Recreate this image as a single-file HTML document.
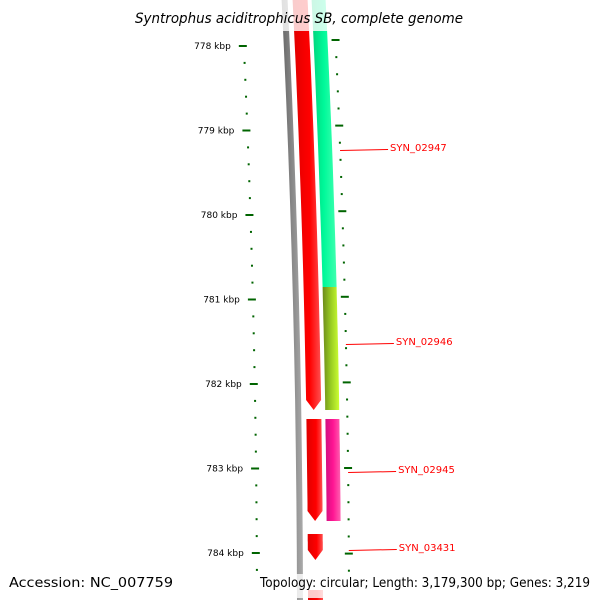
<!DOCTYPE html>
<html><head><meta charset="utf-8"><style>
body{margin:0;background:#fff;width:600px;height:600px;overflow:hidden}
svg{display:block}
</style></head><body>
<svg id="c" width="600" height="600" xmlns="http://www.w3.org/2000/svg">
<defs>
<linearGradient id="gRed" x1="0" x2="1"><stop offset="0" stop-color="#e00000"/><stop offset="0.6" stop-color="#ff0000"/><stop offset="1" stop-color="#ff5050"/></linearGradient>
<linearGradient id="gGreen" x1="0" x2="1"><stop offset="0" stop-color="#00d27a"/><stop offset="0.5" stop-color="#00f99a"/><stop offset="1" stop-color="#40ffb0"/></linearGradient>
<linearGradient id="gLime" x1="0" x2="1"><stop offset="0" stop-color="#6b8a1a"/><stop offset="0.5" stop-color="#99cc22"/><stop offset="1" stop-color="#ccff33"/></linearGradient>
<linearGradient id="gPink" x1="0" x2="1"><stop offset="0" stop-color="#d01080"/><stop offset="0.5" stop-color="#ff1493"/><stop offset="1" stop-color="#ff60b0"/></linearGradient>
<linearGradient id="gGray" x1="0" x2="1"><stop offset="0" stop-color="#666"/><stop offset="1" stop-color="#aaa"/></linearGradient>
</defs>
<g id="tracks"></g>
<g id="ticks"></g>
<g id="labels"></g>
<rect x="0" y="0" width="600" height="31" fill="#fff" opacity="0.8"/>
<text x="135" y="23" textLength="328" lengthAdjust="spacingAndGlyphs" font-family="DejaVu Sans, sans-serif" font-style="italic" font-size="14" fill="#000">Syntrophus aciditrophicus SB, complete genome</text>
<rect x="0" y="574" width="600" height="24" fill="#fff" opacity="0.8"/>
<text x="9" y="587" textLength="164" lengthAdjust="spacingAndGlyphs" font-family="DejaVu Sans, sans-serif" font-size="13" fill="#000">Accession: NC_007759</text>
<text x="260" y="587" textLength="330" lengthAdjust="spacingAndGlyphs" font-family="DejaVu Sans, sans-serif" font-size="13" fill="#000">Topology: circular; Length: 3,179,300 bp; Genes: 3,219</text>
</svg>
<script>
const majorTicks=[778,779,780,781,782,783,784];
const reverseGenes=[[777400,782308],[782414,783621],[783775,784083],[784438,784900]];
const forwardGenes=[[777400,780852],[780852,782308],[782414,783621]];
const forwardFills=["url(#gGreen)","url(#gLime)","url(#gPink)"];
const geneLabels=["SYN_02947","SYN_02946","SYN_02945","SYN_03431"];
const labelBp=[779195,781491,783006,783929];

const NS="http://www.w3.org/2000/svg";
function yOf(bp){return 46+(bp-778000)*0.0845;}
function off(y){return -Math.pow(y-620,2)/25000;}
function mk(tag,attrs,parent){const e=document.createElementNS(NS,tag);for(const k in attrs)e.setAttribute(k,attrs[k]);parent.appendChild(e);return e;}
const T=document.getElementById('tracks'),K=document.getElementById('ticks'),L=document.getElementById('labels');
function band(y1,y2,X1,X2,arrow){
  const a=Math.max(y1,-2),b=Math.min(y2,600);const head=(arrow&&y2<=600)?Math.min(10,b-a):0;
  const pts=[];const n=12;
  for(let i=0;i<=n;i++){const y=a+(b-head-a)*i/n;pts.push([X1+off(y),y]);}
  if(head){const y=b;pts.push([(X1+X2)/2+off(y),y]);}
  for(let i=n;i>=0;i--){const y=a+(b-head-a)*i/n;pts.push([X2+off(y),y]);}
  return pts.map(p=>p[0].toFixed(1)+','+p[1].toFixed(1)).join(' ');
}
let e=mk('polygon',{points:band(-2,600,297,303,false),fill:'url(#gGray)'},T);


reverseGenes.forEach((g,i)=>{
  const el=mk('polygon',{points:band(yOf(g[0]),yOf(g[1]),308,323,true),fill:'url(#gRed)'},T);
  
  
});
forwardGenes.forEach((g,i)=>{
  const el=mk('polygon',{points:band(yOf(g[0]),yOf(g[1]),327,341,false),fill:forwardFills[i]},T);
  
  
});
for(let bp=777800;bp<=784400;bp+=200){
  const y=yOf(bp);const major=bp%1000===0;
  const yr=y-6+(y-46)*0.013;
  if(y>=30&&y<=572){
    const xl=257+off(y);
    const t1=mk('line',{x1:xl-(major?5:1),x2:xl+(major?3:1),y1:y,y2:y,stroke:'#006400','stroke-width':2},K);
    
    
  }
  if(yr>=30&&yr<=572){
    const xr=349+off(yr);
    const t2=mk('line',{x1:xr-(major?4:1),x2:xr+(major?4:1),y1:yr,y2:yr,stroke:'#006400','stroke-width':2},K);
    
    
  }
}
majorTicks.forEach(k=>{
  const y=yOf(k*1000);
  const t=mk('text',{x:244+off(y),y:y+3,'text-anchor':'end','font-family':'DejaVu Sans, sans-serif','font-size':'9',fill:'#000'},K);
  t.textContent=k+' kbp';
  
  
});
geneLabels.forEach((s,i)=>{
  const y=yOf(labelBp[i]);const x0=357+off(y);
  const ln=mk('line',{x1:x0-8,y1:y+3.5,x2:x0+40,y2:y+2.5,stroke:'#ff0000','stroke-width':1},L);
  
  
  const t=mk('text',{x:x0+42,y:y+4,'font-family':'DejaVu Sans, sans-serif','font-size':'10',fill:'#ff0000'},L);
  t.textContent=s;
  
  
});
</script>
</body></html>
